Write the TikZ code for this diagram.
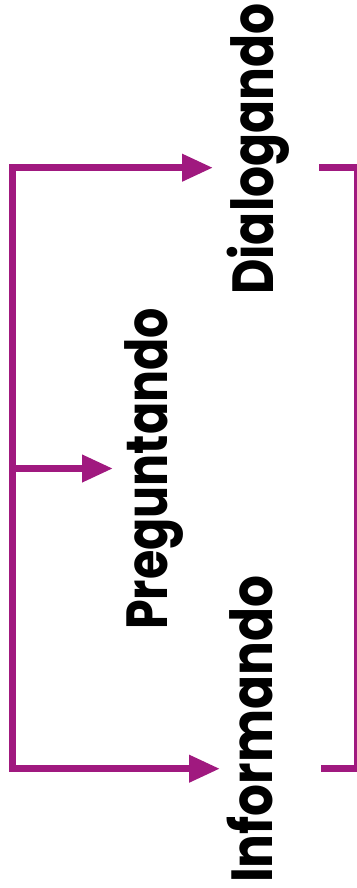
\documentclass[tikz,border=0pt]{standalone}
\usepackage{fontspec}
\setmainfont{Poppins}[BoldFont={* Bold}]
\usetikzlibrary{arrows.meta}
\definecolor{violeta}{HTML}{A0197F}
\begin{document}
\begin{tikzpicture}[x=1pt,y=-1pt,
  lbl/.style={rotate=90,anchor=base west,inner sep=0pt,font=\fontsize{58}{60}\selectfont\bfseries},
  conn/.style={draw=violeta,line width=7pt,line join=miter},
  tip/.style={-{Triangle[length=31pt,width=26pt]}}]
\useasboundingbox (0,0) rectangle (356,888);
\node[lbl] (dia) at (273,295) {\scalebox{0.84}[1]{Dialogando}};
\node[lbl] (pre) at (167,630) {\scalebox{0.82}[1]{Preguntando}};
\node[lbl] (inf) at (272,883) {\scalebox{0.865}[1]{Informando}};
\coordinate (sTop) at (12,167.7);
\coordinate (sMid) at (12,468.5);
\coordinate (sBot) at (12,768.7);
\coordinate (tTop) at (213,167.7);
\coordinate (tMid) at (113,468.5);
\coordinate (tBot) at (220,768.7);
\draw[conn,{Triangle[length=31pt,width=26pt]}-{Triangle[length=31pt,width=26pt]}] (tTop) -- (sTop) -- (sBot) -- (tBot);
\draw[conn,tip] (sMid) -- (tMid);
\coordinate (rTop) at (319,167.7);
\coordinate (rBot) at (321,768.7);
\draw[conn] (rTop) -- (357.5,167.7) -- (357.5,768.7) -- (rBot);
\end{tikzpicture}
\end{document}
